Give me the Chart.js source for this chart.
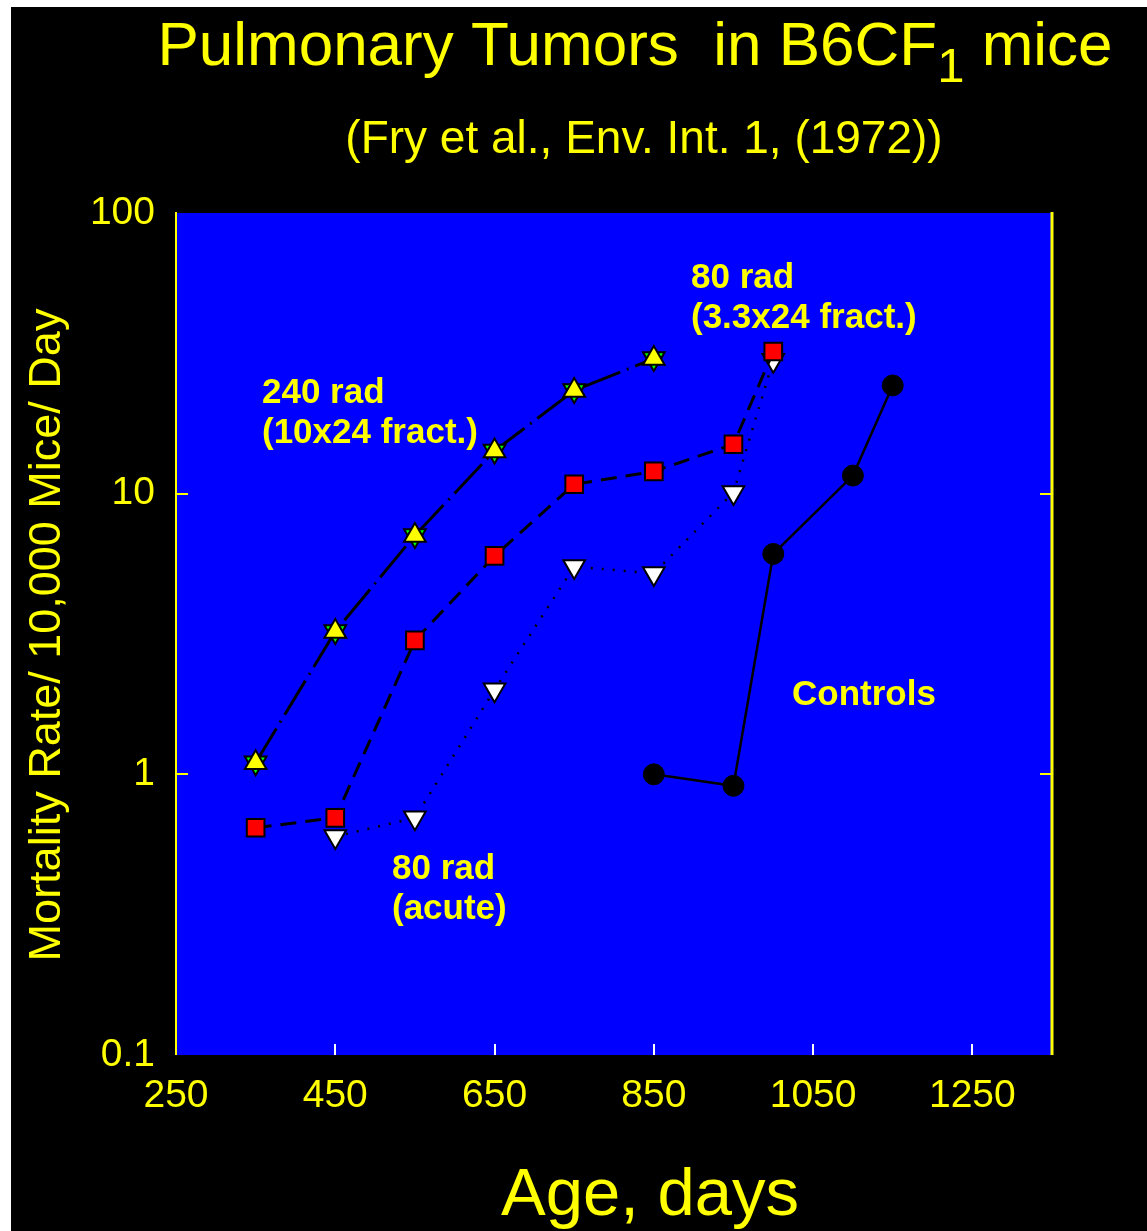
<!DOCTYPE html>
<html>
<head>
<meta charset="utf-8">
<title>Pulmonary Tumors in B6CF1 mice</title>
<script src="https://cdn.jsdelivr.net/npm/chart.js@4.4.1/dist/chart.umd.min.js"></script>
<style>
  html, body { margin: 0; padding: 0; background: #ffffff; }
  #tumor-chart { display: block; }
</style>
</head>
<body>
<canvas id="tumor-chart" width="1147" height="1231"></canvas>
<script>
'use strict';

// ************** Data ***************************

let rad240Ages = [350, 450, 550, 650, 750, 850];
let rad240Rate = [1.10, 3.23, 7.1, 14.2, 23.3, 30.3];

let fractAges = [350, 450, 550, 650, 750, 850, 950, 1000];
let fractRate = [0.645, 0.70, 3.0, 6.0, 10.8, 12.0, 15.0, 32.1];

let acuteAges = [450, 550, 650, 750, 850, 950, 1000];
let acuteRate = [0.60, 0.70, 2.0, 5.5, 5.2, 10.1, 29.9];

let controlAges = [850, 950, 1000, 1100, 1150];
let controlRate = [1.0, 0.91, 6.1, 11.6, 24.3];

let xTicks = [250, 450, 650, 850, 1050, 1250];
let xTickLabels = ['250', '450', '650', '850', '1050', '1250'];
let yTicks = [0.1, 1, 10, 100];
let yTickLabels = ['0.1', '1', '10', '100'];

// ************** Settings ***********************

const FONT = '"Liberation Sans", Arial, sans-serif';
const YELLOW = '#ffff00';
const PLOT_BLUE = '#0000ff';

function toPoints(ages, rates) {
  return ages.map((a, i) => ({ x: a, y: rates[i] }));
}

// ************** Plugins ************************

let backdrop = {
  id: 'backdrop',
  beforeDraw(chart) {
    let c = chart.ctx;
    let area = chart.chartArea;
    c.save();
    c.fillStyle = '#ffffff';
    c.fillRect(0, 0, chart.width, chart.height);
    c.fillStyle = '#000000';
    c.fillRect(11, 7, chart.width - 11, chart.height - 7);
    c.fillStyle = PLOT_BLUE;
    c.fillRect(area.left, area.top, area.right - area.left, area.bottom - area.top);
    c.restore();
  }
};

// frame lines, inward ticks and all the text outside the plot
let decorations = {
  id: 'decorations',
  afterDraw(chart) {
    let c = chart.ctx;
    let area = chart.chartArea;
    let xs = chart.scales.x;
    let ys = chart.scales.y;
    c.save();

    c.strokeStyle = YELLOW;
    c.lineWidth = 2;
    c.beginPath();
    c.moveTo(area.left, area.top - 1);
    c.lineTo(area.left, area.bottom);
    c.stroke();
    c.lineWidth = 3;
    c.beginPath();
    c.moveTo(area.right, area.top - 1);
    c.lineTo(area.right, area.bottom);
    c.stroke();

    c.lineWidth = 2;
    [1, 10].forEach(v => {
      let py = Math.round(ys.getPixelForValue(v));
      c.beginPath();
      c.moveTo(area.left, py);
      c.lineTo(area.left + 12, py);
      c.moveTo(area.right - 12, py);
      c.lineTo(area.right, py);
      c.stroke();
    });

    c.strokeStyle = '#ffffff';
    c.lineWidth = 2;
    xTicks.slice(1).forEach(v => {
      let px = Math.round(xs.getPixelForValue(v));
      c.beginPath();
      c.moveTo(px, area.bottom);
      c.lineTo(px, area.bottom - 11);
      c.stroke();
    });

    c.fillStyle = YELLOW;
    c.textBaseline = 'alphabetic';

    // title with subscript
    let mainFont = '62px ' + FONT;
    let subFont = '49px ' + FONT;
    let partA = 'Pulmonary Tumors  in B6CF';
    let partB = '1';
    let partC = ' mice';
    c.font = mainFont;
    let wA = c.measureText(partA).width;
    let wC = c.measureText(partC).width;
    c.font = subFont;
    let wB = c.measureText(partB).width;
    let startX = 635 - (wA + wB + wC) / 2;
    c.textAlign = 'left';
    c.font = mainFont;
    c.fillText(partA, startX, 65);
    c.font = subFont;
    c.fillText(partB, startX + wA, 82);
    c.font = mainFont;
    c.fillText(partC, startX + wA + wB, 65);

    c.textAlign = 'center';
    c.font = '46px ' + FONT;
    c.fillText('(Fry et al., Env. Int. 1, (1972))', 644, 153);

    c.font = '67px ' + FONT;
    c.fillText('Age, days', 650, 1215);

    c.save();
    c.translate(60, 635);
    c.rotate(-Math.PI / 2);
    c.font = '45px ' + FONT;
    c.fillText('Mortality Rate/ 10,000 Mice/ Day', 0, 0);
    c.restore();

    // series labels
    c.textAlign = 'left';
    c.font = 'bold 35px ' + FONT;
    c.fillText('240 rad', 262, 403);
    c.fillText('(10x24 fract.)', 262, 443);
    c.fillText('80 rad', 691, 288);
    c.fillText('(3.3x24 fract.)', 691, 328);
    c.fillText('80 rad', 392, 879);
    c.fillText('(acute)', 392, 919);
    c.fillText('Controls', 792, 705);

    c.restore();
  }
};

// ************** Chart **************************

let ctx = document.getElementById('tumor-chart').getContext('2d');

let chartConfig = {
  type: 'line',
  data: {
    datasets: [
      {
        label: '240 rad markers',
        data: toPoints(rad240Ages, rad240Rate),
        showLine: false,
        pointStyle: 'triangle',
        pointRadius: 12.5,
        pointBackgroundColor: YELLOW,
        pointBorderColor: '#000000',
        pointBorderWidth: 2
      },
      {
        label: '240 rad under',
        data: toPoints(rad240Ages, rad240Rate),
        showLine: false,
        pointStyle: 'triangle',
        rotation: 180,
        pointRadius: 12.5,
        pointBackgroundColor: '#00ff00',
        pointBorderColor: '#000000',
        pointBorderWidth: 2
      },
      {
        label: '240 rad (10x24 fract.)',
        data: toPoints(rad240Ages, rad240Rate),
        borderColor: '#000000',
        borderWidth: 3,
        borderDash: [40, 7, 2, 7],
        pointRadius: 0
      },
      {
        label: '80 rad (3.3x24 fract.)',
        data: toPoints(fractAges, fractRate),
        borderColor: '#000000',
        borderWidth: 3,
        borderDash: [16, 9],
        pointStyle: 'rect',
        pointRadius: 12.5,
        pointBackgroundColor: '#ff0000',
        pointBorderColor: '#000000',
        pointBorderWidth: 2
      },
      {
        label: '80 rad (acute)',
        data: toPoints(acuteAges, acuteRate),
        borderColor: '#000000',
        borderWidth: 2.5,
        borderDash: [2, 9],
        pointStyle: 'triangle',
        rotation: 180,
        pointRadius: 12.5,
        pointBackgroundColor: '#ffffff',
        pointBorderColor: '#000000',
        pointBorderWidth: 2
      },
      {
        label: 'Controls',
        data: toPoints(controlAges, controlRate),
        borderColor: '#000000',
        borderWidth: 2.5,
        pointStyle: 'circle',
        pointRadius: 10.5,
        pointBackgroundColor: '#000000',
        pointBorderColor: '#000000',
        pointBorderWidth: 1
      }
    ]
  },
  options: {
    responsive: false,
    animation: false,
    events: [],
    layout: {
      padding: { left: 0, top: 213, right: 95, bottom: 0 }
    },
    plugins: {
      legend: { display: false },
      tooltip: { enabled: false },
      title: { display: false }
    },
    scales: {
      x: {
        type: 'linear',
        min: 250,
        max: 1350,
        afterFit: scale => { scale.height = 176; },
        afterBuildTicks: scale => {
          scale.ticks = xTicks.map(v => ({ value: v }));
        },
        grid: { display: false, drawTicks: false },
        border: { display: false },
        ticks: {
          color: YELLOW,
          font: { family: FONT, size: 39 },
          padding: 18,
          maxRotation: 0,
          autoSkip: false,
          callback: value => {
            let i = xTicks.indexOf(value);
            return i >= 0 ? xTickLabels[i] : '';
          }
        }
      },
      y: {
        type: 'logarithmic',
        min: 0.1,
        max: 100,
        afterFit: scale => { scale.width = 176; },
        afterBuildTicks: scale => {
          scale.ticks = yTicks.map(v => ({ value: v }));
        },
        grid: { display: false, drawTicks: false },
        border: { display: false },
        ticks: {
          color: YELLOW,
          font: { family: FONT, size: 39 },
          padding: 21,
          autoSkip: false,
          callback: value => {
            let i = yTicks.indexOf(value);
            return i >= 0 ? yTickLabels[i] : '';
          }
        }
      }
    }
  },
  plugins: [backdrop, decorations]
};

new Chart(ctx, chartConfig);
</script>
</body>
</html>
